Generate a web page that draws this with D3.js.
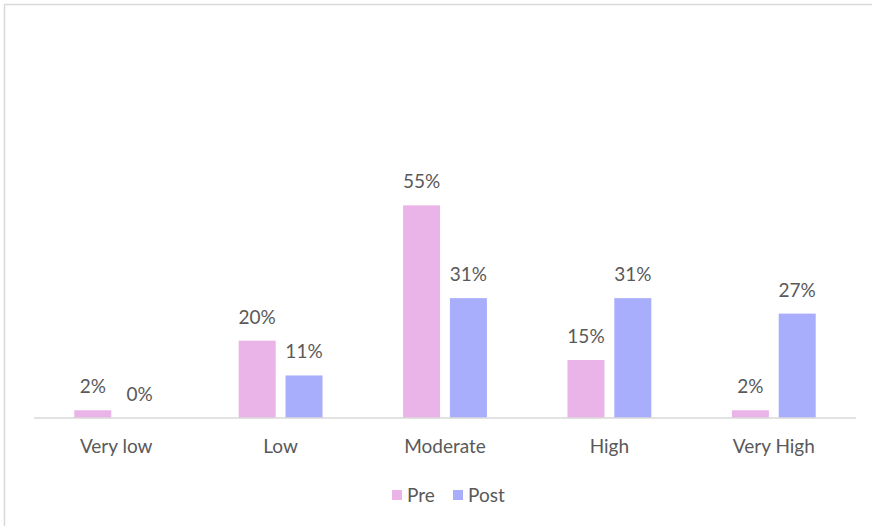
<!DOCTYPE html>
<html>
<head>
<meta charset="utf-8">
<script src="https://cdn.jsdelivr.net/npm/d3@7"></script>
<style>
  html, body { margin: 0; padding: 0; background: #fff; }
  svg { display: block; }
</style>
</head>
<body>
<svg id="chart" width="872" height="526"></svg>
<script>
// Chart data
const categories = ["Very low", "Low", "Moderate", "High", "Very High"];
const seriesNames = ["Pre", "Post"];
const preValues = [2, 20, 55, 15, 2];
const postValues = [0, 11, 31, 31, 27];
const colors = ["#ebb4e8", "#a9aefc"];

const svg = d3.select("#chart");
const W = 872, H = 526;
const font = "Lato, 'Open Sans', sans-serif";
const fontSize = 19;
const textColor = "#595959";

// Chart frame
svg.append("rect")
  .attr("x", 4.5).attr("y", 4.5)
  .attr("width", W + 10).attr("height", H + 10)
  .attr("fill", "#fff")
  .attr("stroke", "#d9d9d9").attr("stroke-width", 1.5);

const plot = { left: 34, right: 856, top: 186, bottom: 418 };

const x0 = d3.scaleBand()
  .domain(categories)
  .range([plot.left, plot.right])
  .paddingInner(0.49)
  .paddingOuter(0.245);

const x1 = d3.scaleBand()
  .domain(seriesNames)
  .range([0, x0.bandwidth()])
  .paddingInner(0.21);

const y = d3.scaleLinear()
  .domain([0, 60])
  .range([plot.bottom, plot.top]);

const rows = categories.map((c, i) => ({
  category: c,
  values: [
    { series: "Pre", value: preValues[i] },
    { series: "Post", value: postValues[i] }
  ]
}));

const groups = svg.append("g").selectAll("g")
  .data(rows)
  .join("g")
  .attr("transform", d => `translate(${x0(d.category)},0)`);

groups.selectAll("rect")
  .data(d => d.values)
  .join("rect")
  .attr("x", d => x1(d.series))
  .attr("y", d => y(d.value))
  .attr("width", x1.bandwidth())
  .attr("height", d => y(0) - y(d.value))
  .attr("fill", (d, i) => colors[i]);

groups.selectAll("text")
  .data(d => d.values)
  .join("text")
  .attr("x", d => x1(d.series) + x1.bandwidth() / 2)
  .attr("y", d => y(d.value) - 17)
  .attr("text-anchor", "middle")
  .attr("font-family", font)
  .attr("font-size", fontSize)
  .attr("fill", textColor)
  .text(d => d.value + "%");

// Category axis
const xAxis = svg.append("g")
  .attr("transform", `translate(0,${plot.bottom})`)
  .call(d3.axisBottom(x0).tickSize(0).tickPadding(22).tickSizeOuter(0));
xAxis.select(".domain")
  .attr("stroke", "#d9d9d9").attr("stroke-width", 1.5)
  .attr("d", `M${plot.left},0H${plot.right}`);
xAxis.selectAll("text")
  .attr("font-family", font)
  .attr("font-size", fontSize)
  .attr("fill", textColor);

// Legend
const legend = svg.append("g").attr("transform", "translate(392,495)");
const legendOffsets = [0, 61];
seriesNames.forEach((name, i) => {
  const g = legend.append("g").attr("transform", `translate(${legendOffsets[i]},0)`);
  g.append("rect")
    .attr("x", 0).attr("y", -5)
    .attr("width", 10).attr("height", 10)
    .attr("fill", colors[i]);
  g.append("text")
    .attr("x", 15).attr("y", 0)
    .attr("dy", "0.35em")
    .attr("font-family", font)
    .attr("font-size", fontSize)
    .attr("fill", textColor)
    .text(name);
});
</script>
</body>
</html>
